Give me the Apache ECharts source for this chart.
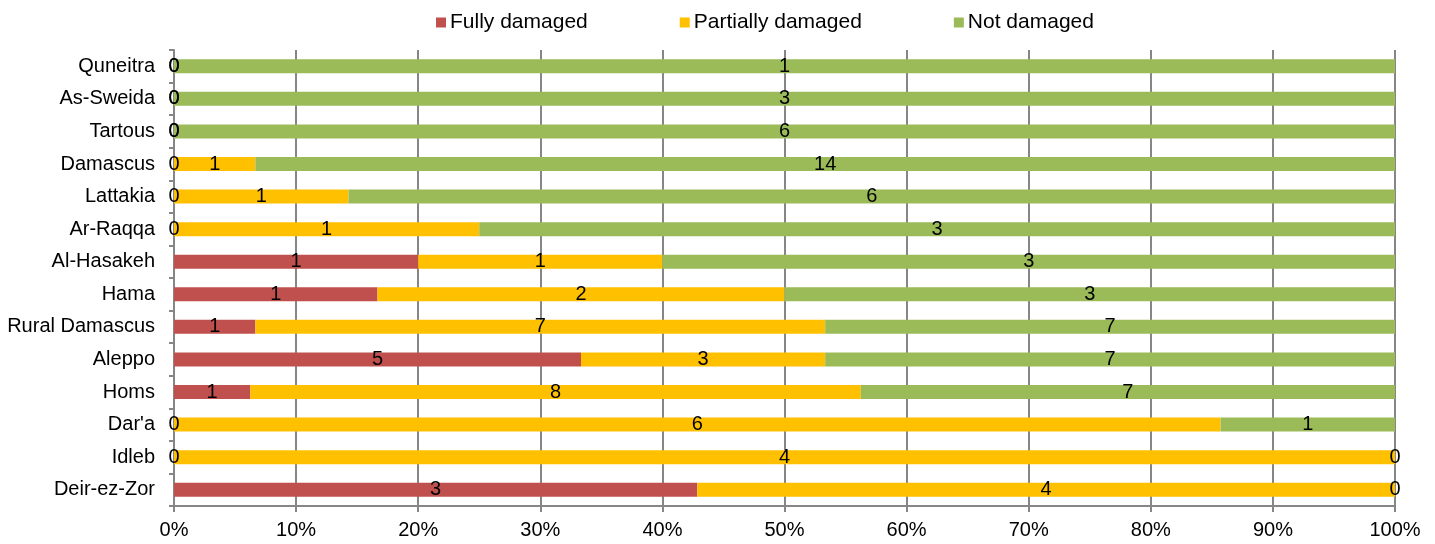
<!DOCTYPE html>
<html>
<head>
<meta charset="utf-8">
<script src="https://cdn.jsdelivr.net/npm/echarts@6/dist/echarts.min.js"></script>
<style>
  html, body { margin: 0; padding: 0; background: #fff; }
  #chart { width: 1435px; height: 544px; }
</style>
</head>
<body>
<div id="chart"></div>
<script>
// bottom to top, as drawn
const governorates = ['Deir-ez-Zor', 'Idleb', "Dar'a", 'Homs', 'Aleppo', 'Rural Damascus', 'Hama',
  'Al-Hasakeh', 'Ar-Raqqa', 'Lattakia', 'Damascus', 'Tartous', 'As-Sweida', 'Quneitra'];
const fullyDamaged     = [3, 0, 0, 1, 5, 1, 1, 1, 0, 0, 0, 0, 0, 0];
const partiallyDamaged = [4, 4, 6, 8, 3, 7, 2, 1, 1, 1, 1, 0, 0, 0];
const notDamaged       = [0, 0, 1, 7, 7, 7, 3, 3, 3, 6, 14, 6, 3, 1];

const font = "'Liberation Sans', Arial, sans-serif";
const totals = governorates.map((g, i) => fullyDamaged[i] + partiallyDamaged[i] + notDamaged[i]);

// bars are drawn as shares of the total, labels keep the raw counts
const toShare = (arr) => arr.map((v, i) => ({ value: v / totals[i] * 100, count: v }));

const makeSeries = (name, arr, color) => ({
  name,
  type: 'bar',
  stack: 'total',
  barWidth: 14,
  data: toShare(arr),
  itemStyle: { color },
  label: {
    show: true,
    position: 'inside',
    formatter: (p) => p.data.count,
    color: '#000',
    fontFamily: font,
    fontSize: 20
  }
});

const chart = echarts.init(document.getElementById('chart'));
chart.setOption({
  animation: false,
  textStyle: { fontFamily: font },
  legend: {
    top: 7,
    left: 431,
    itemWidth: 10,
    itemHeight: 10,
    itemGap: 92,
    icon: 'rect',
    textStyle: { fontSize: 21, color: '#000', fontFamily: font, padding: [0, 0, 0, -1] },
    data: ['Fully damaged', 'Partially damaged', 'Not damaged']
  },
  grid: { left: 174, right: 40, top: 50, bottom: 38, containLabel: false },
  xAxis: {
    type: 'value',
    min: 0,
    max: 100,
    interval: 10,
    axisLabel: { formatter: '{value}%', fontSize: 20, color: '#000', fontFamily: font, margin: 14 },
    axisLine: { show: true, lineStyle: { color: '#868686', width: 2 } },
    axisTick: { show: true, length: 6, lineStyle: { color: '#868686', width: 2 } },
    splitLine: { show: true, lineStyle: { color: '#868686', width: 2 } }
  },
  yAxis: {
    type: 'category',
    data: governorates,
    axisLabel: { fontSize: 20, color: '#000', fontFamily: font, margin: 19 },
    axisLine: { show: true, lineStyle: { color: '#868686', width: 2 } },
    axisTick: { show: true, length: 5, lineStyle: { color: '#868686', width: 2 } }
  },
  series: [
    makeSeries('Fully damaged', fullyDamaged, '#C0504D'),
    makeSeries('Partially damaged', partiallyDamaged, '#FFC000'),
    makeSeries('Not damaged', notDamaged, '#9BBB59')
  ]
});
</script>
</body>
</html>
